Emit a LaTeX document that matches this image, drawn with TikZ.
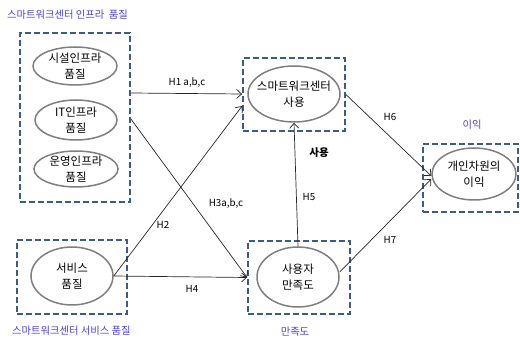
\documentclass[tikz,border=0pt]{standalone}
\usepackage{fontspec}
\setmainfont{Noto Sans CJK KR}
\usetikzlibrary{arrows.meta,shapes.geometric}
\definecolor{boxblue}{HTML}{3B5B8C}
\definecolor{titleblue}{HTML}{4A3FE6}
\definecolor{ellgray}{HTML}{7F7F7F}
\definecolor{arrgray}{HTML}{262626}
\tikzset{
  grp/.style={rectangle, draw=boxblue, line width=1.8pt, dash pattern=on 6pt off 3pt, inner sep=0pt},
  ell/.style={ellipse, draw=ellgray, line width=1.5pt, inner sep=0pt},
  etxt/.style={align=center, font=\fontsize{11.5}{16.5}\selectfont, inner sep=0pt},
  title/.style={text=titleblue, font=\fontsize{10.3}{12}\selectfont, inner sep=0pt},
  hlab/.style={font=\fontsize{9.8}{11}\selectfont, inner sep=0pt},
  arr/.style={draw=arrgray, line width=0.7pt, -{Straight Barb[length=5pt,width=9pt]}}
}
\begin{document}
\begin{tikzpicture}[x=1pt,y=-1pt]
\useasboundingbox (0,0) rectangle (520,339);
% group boxes
\node[grp, minimum width=110, minimum height=169] (infra) at (75,117.5) {};
\node[grp, minimum width=110, minimum height=74] (svcbox) at (72,277) {};
\node[grp, minimum width=102, minimum height=73] (usebox) at (294,94.5) {};
\node[grp, minimum width=102, minimum height=73] (satbox) at (299,277.5) {};
\node[grp, minimum width=95, minimum height=68] (benbox) at (470.5,178) {};
% ellipses
\node[ell, minimum width=84, minimum height=38] (e1) at (75,66) {};
\node[ell, minimum width=82, minimum height=40] (e2) at (76,120) {};
\node[ell, minimum width=84, minimum height=36] (e3) at (76,169) {};
\node[ell, minimum width=82, minimum height=58] (svc) at (72,276) {};
\node[ell, minimum width=92, minimum height=56] (use) at (294,94) {};
\node[ell, minimum width=82, minimum height=60] (sat) at (298,277) {};
\node[ell, minimum width=84, minimum height=52] (ben) at (474,174) {};
% ellipse texts
\node[etxt] (t1) at (e1) {시설인프라\\품질};
\node[etxt] (t2) at (e2) {IT인프라\\품질};
\node[etxt] (t3) at (e3) {운영인프라\\품질};
\node[etxt] (t4) at (svc) {서비스\\품질};
\node[etxt] (t5) at (use) {스마트워크센터\\사용};
\node[etxt] (t6) at (sat) {사용자\\만족도};
\node[etxt] (t7) at (ben) {개인차원의\\이익};
% titles
\node[title, anchor=west] (ti1) at (7,15) {스마트워크센터 인프라~~품질};
\node[title, anchor=west] (ti2) at (12,331) {스마트워크센터 서비스 품질};
\node[title] (ti3) at (472,125) {이익};
\node[title] (ti4) at (295,332) {만족도};
\node[font=\fontsize{10.5}{12}\selectfont\bfseries, inner sep=0pt] (ti5) at (319,153) {사용};
% arrows
\draw[arr] ([yshift=24.5pt]infra.east) -- ([yshift=0.5pt]usebox.west);
\draw[arr] ([yshift=-1.5pt]infra.east) -- (satbox.west);
\draw[arr] (svc.east) -- ([yshift=-11.5pt]usebox.west);
\draw[arr] (svc.east) -- (satbox.west);
\draw[arr] (sat.north) -- (use.south);
\draw[arr] (usebox.east) -- ([yshift=-2pt]ben.west);
\draw[arr] ([yshift=5pt]sat.east) -- ([yshift=-5pt]ben.west);
% labels
\node[hlab] (h1) at (187,83) {H1 a,b,c};
\node[hlab] (h2) at (163,225) {H2};
\node[hlab] (h3) at (226,204) {H3a,b,c};
\node[hlab] (h4) at (192,289) {H4};
\node[hlab] (h5) at (309,197) {H5};
\node[hlab] (h6) at (390,117) {H6};
\node[hlab] (h7) at (390,240) {H7};
\end{tikzpicture}
\end{document}
